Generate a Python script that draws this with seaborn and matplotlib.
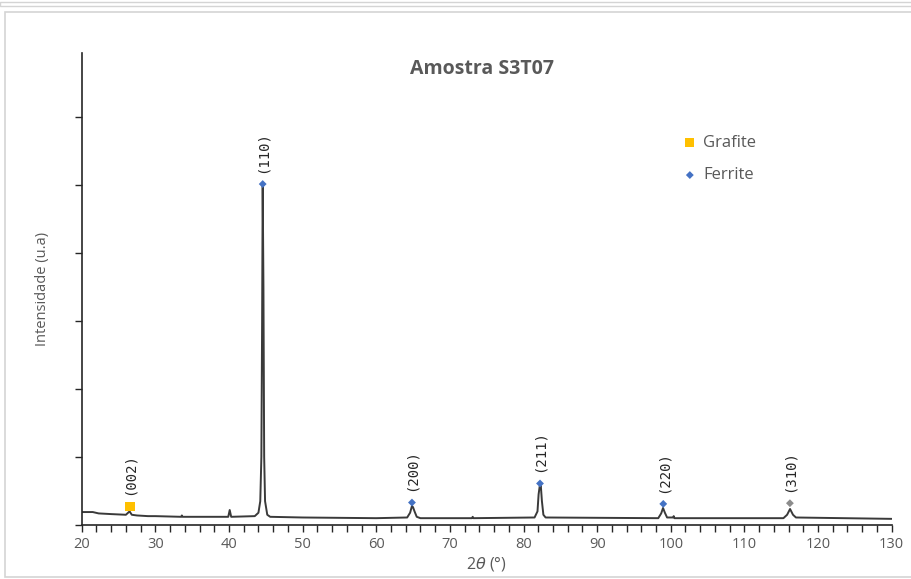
"""XRD pattern of sample S3T07 with indexed graphite / ferrite reflections."""
import matplotlib
matplotlib.use("Agg")
import matplotlib.pyplot as plt
import seaborn as sns
from matplotlib.patches import Rectangle
from matplotlib.ticker import MultipleLocator

# ---- data ----------------------------------------------------------------- #
two_theta = [20.0, 21.5, 22.3, 24.0, 26.0, 26.5, 26.8, 27.5, 29.0, 30.0,
             33.5, 33.6, 33.7, 38.0, 39.9, 40.1, 40.3, 43.5, 44.0, 44.25,
             44.4, 44.5, 44.58, 44.68, 44.78, 44.9, 45.2, 45.6, 50.0, 60.0,
             64.2, 64.6, 64.85, 65.0, 65.2, 65.5, 66.0, 73.0, 73.1, 73.2,
             81.5, 81.9, 82.05, 82.2, 82.35, 82.5, 82.7, 83.0, 98.3, 98.7,
             98.95, 99.2, 99.5, 100.3, 100.4, 100.5, 115.3, 115.8, 116.2, 116.6,
             117.0, 130.0]
intensity = [190, 190, 170, 160, 150, 200, 150, 140, 130, 130,
             120, 140, 120, 120, 120, 220, 120, 130, 180, 350,
             1000, 3000, 5000, 3500, 1000, 350, 150, 120, 110, 100,
             110, 180, 280, 260, 200, 120, 100, 100, 120, 100,
             110, 200, 450, 570, 580, 350, 150, 110, 100, 170,
             250, 180, 110, 110, 130, 100, 100, 150, 235, 150,
             110, 90]

grafite_x = [26.55]
grafite_y = [270]
grafite_hkl = ["(002)"]

ferrite_x = [44.58, 64.85, 82.24, 98.98, 116.18]
ferrite_y = [5010, 330, 610, 310, 320]
ferrite_hkl = ["(110)", "(200)", "(211)", "(220)", "(310)"]

GREY_TXT = "#595959"
LINE = "#3a3a3a"

sns.set_style("white")
plt.rcParams["font.family"] = ["Open Sans", "DejaVu Sans"]

fig = plt.figure(figsize=(9.12, 5.79), dpi=100)
ax = fig.add_axes([0.0896, 0.0933, 0.8881, 0.8157])

sns.lineplot(x=two_theta, y=intensity, ax=ax, color=LINE, linewidth=1.4,
             sort=False, estimator=None)
sns.scatterplot(x=grafite_x, y=grafite_y, ax=ax, marker="s", s=45,
                color="#FFC000", edgecolor="none", label="Grafite", zorder=3)
sns.scatterplot(x=ferrite_x[:-1], y=ferrite_y[:-1], ax=ax, marker="D", s=16,
                color="#4472C4", edgecolor="none", label="Ferrite", zorder=3)
sns.scatterplot(x=ferrite_x[-1:], y=ferrite_y[-1:], ax=ax, marker="D", s=16,
                color="#8c8c8c", edgecolor="none", zorder=3)

# peak indices, rotated above each marker
for xs, ys, labels in ((grafite_x, grafite_y, grafite_hkl),
                       (ferrite_x, ferrite_y, ferrite_hkl)):
    for x, y, lab in zip(xs, ys, labels):
        ax.annotate(lab, (x, y), xytext=(0, 8), textcoords="offset points",
                    rotation=90, ha="center", va="bottom", fontsize=10,
                    color="#262626", family="DejaVu Sans Mono")

ax.set_xlim(20, 130)
ax.set_ylim(0, 6940)
ax.xaxis.set_major_locator(MultipleLocator(10))
ax.xaxis.set_minor_locator(MultipleLocator(2))
ax.yaxis.set_major_locator(MultipleLocator(1000))
ax.set_yticklabels([])
ax.tick_params(axis="x", which="both", direction="out", length=5, width=1,
               color="#262626", labelsize=10.5, labelcolor=GREY_TXT, pad=4,
               bottom=True)
ax.tick_params(axis="y", which="major", direction="out", length=5, width=1,
               color="#262626", left=True)
for side in ("top", "right"):
    ax.spines[side].set_visible(False)
for side in ("left", "bottom"):
    ax.spines[side].set_color("#262626")
    ax.spines[side].set_linewidth(1.2)

ax.set_xlabel(r"2$\it{\theta}$ (°)", fontsize=11.5, color=GREY_TXT, labelpad=2)
ax.set_ylabel("Intensidade (u.a)", fontsize=10.5, color=GREY_TXT, labelpad=14)
ax.text(0.494, 0.966, "Amostra S3T07", transform=ax.transAxes,
        ha="center", va="center", fontsize=14, fontweight="bold",
        color=GREY_TXT)

ax.legend(loc="upper left", bbox_to_anchor=(0.722, 0.858), frameon=False,
          fontsize=12, labelcolor=GREY_TXT, handletextpad=0.3,
          labelspacing=1.0, handlelength=1.0)

# spreadsheet frame around the chart area
fig.add_artist(Rectangle((0.005, 0.003), 0.995, 0.977, transform=fig.transFigure,
                         fill=False, edgecolor="#d4d4d4", linewidth=1.2))
fig.add_artist(Rectangle((0.0, 0.99), 1.0, 0.006, transform=fig.transFigure,
                         fill=False, edgecolor="#d4d4d4", linewidth=1.0))

fig.savefig("out.png", dpi=100)
